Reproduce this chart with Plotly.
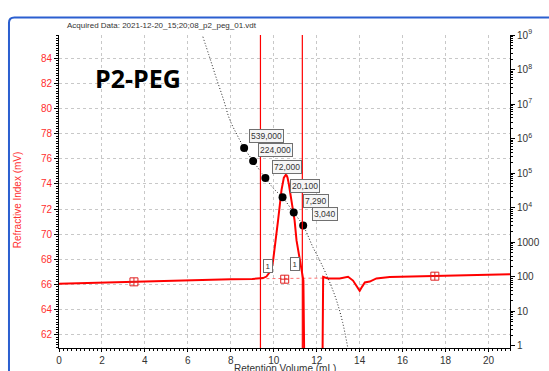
import math
import plotly.graph_objects as go

# Refractive index detector trace (retention volume in mL, signal in mV)
ri_volume = [0, 1, 2, 3, 4, 5, 6, 7, 8, 9, 9.35, 9.5, 9.66, 9.78, 9.89, 9.97, 10.05,
             10.13, 10.2, 10.28, 10.36, 10.47, 10.53, 10.56, 10.6, 10.64, 10.7, 10.79,
             10.9, 10.97, 11.06, 11.18, 11.29, 11.38, 11.45, 12.24, 12.27, 12.3, 12.38,
             12.53, 13.07, 13.3, 13.46, 13.69, 13.88, 14.0, 14.11, 14.24, 14.47, 14.78,
             15.4, 16.5, 17.6, 19, 21]
ri_mv = [66.05, 66.1, 66.15, 66.2, 66.25, 66.28, 66.32, 66.36, 66.4, 66.43, 66.45, 66.5,
         66.62, 66.85, 67.15, 67.9, 68.9, 69.8, 71.1, 72.3, 73.5, 74.5, 74.7, 74.72, 74.68,
         74.5, 74.0, 73.0, 71.9, 71.1, 69.5, 68.2, 66.9, 66.3, 55, 55, 60, 66.6, 66.55,
         66.47, 66.47, 66.55, 66.6, 66.3, 65.8, 65.48, 65.8, 66.15, 66.22, 66.47, 66.58,
         66.62, 66.65, 66.72, 66.8]

# Peak integration baseline and baseline markers
base_volume = [9.38, 12.38]
base_mv = [66.45, 66.5]
marker_volume = [3.49, 10.51, 17.5]
marker_mv = [66.2, 66.41, 66.65]

# Calibration curve (log10 molecular weight vs retention volume)
cal_volume = [6.7, 7.0, 7.3, 7.65, 7.95, 8.3, 8.62, 9.04, 9.61, 10.0, 10.41, 10.93,
              11.37, 11.83, 12.2, 12.6, 12.92, 13.2, 13.45]
cal_logm = [8.95, 8.38, 7.8, 7.15, 6.55, 6.1, 5.73, 5.35, 4.86, 4.55, 4.3, 3.86, 3.48,
            2.85, 2.4, 1.85, 1.32, 0.7, -0.06]

# Calibration standards
std_volume = [8.62, 9.04, 9.61, 10.41, 10.93, 11.37]
std_mw = [539000, 224000, 72000, 20100, 7290, 3040]

# Integration limits and peak markers
limit_volume = [9.38, 11.33]
peak_box_volume = [9.73, 10.98]
peak_box_mv = [67.45, 67.6]

x_ticks = list(range(0, 21, 2))
y_ticks = list(range(62, 85, 2))
mw_tickvals = [10 ** k for k in range(0, 10)]
mw_ticktext = ["1", "10", "100", "1000"] + [f"10<sup>{k}</sup>" for k in range(4, 10)]

FONT = "Liberation Sans, Arial, sans-serif"
RED = "#ff0000"

fig = go.Figure()

fig.add_trace(go.Scatter(
    x=cal_volume, y=[10 ** v for v in cal_logm], yaxis="y2", mode="lines",
    line=dict(color="#222222", width=1, dash="1px,2px", shape="spline"),
    hoverinfo="skip", showlegend=False))

fig.add_trace(go.Scatter(
    x=base_volume, y=base_mv, mode="lines",
    line=dict(color="#ff7070", width=1, dash="dot"), showlegend=False))

fig.add_trace(go.Scatter(
    x=ri_volume, y=ri_mv, mode="lines",
    line=dict(color=RED, width=2), showlegend=False))

fig.add_trace(go.Scatter(
    x=marker_volume, y=marker_mv, mode="markers",
    marker=dict(symbol="square-cross-open", size=8, color="#e02020", line=dict(width=1)),
    showlegend=False))

fig.add_trace(go.Scatter(
    x=std_volume, y=std_mw, yaxis="y2", mode="markers",
    marker=dict(color="black", size=8), showlegend=False))

for xv in limit_volume:
    fig.add_shape(type="line", xref="x", yref="paper", x0=xv, x1=xv, y0=0, y1=1,
                  line=dict(color=RED, width=1.2))

annotations = []
for xv, mw in zip(std_volume, std_mw):
    annotations.append(dict(
        x=xv, y=math.log10(mw), xref="x", yref="y2", text=f"{mw:,}", showarrow=False,
        xshift=22, yshift=11.5, font=dict(family=FONT, size=8.5, color="#333333"),
        bgcolor="#f6f6f6", bordercolor="#707070", borderwidth=1, borderpad=1))

for xv, yv in zip(peak_box_volume, peak_box_mv):
    annotations.append(dict(
        x=xv, y=yv, xref="x", yref="y", text="1", showarrow=False,
        font=dict(family=FONT, size=8, color="#333333"),
        bgcolor="white", bordercolor="#707070", borderwidth=1, borderpad=1.5))

annotations += [
    dict(x=0.0133, y=1.029, xref="paper", yref="paper", xanchor="left", yanchor="middle",
         text="Acquired Data: 2021-12-20_15;20;08_p2_peg_01.vdt", showarrow=False,
         font=dict(family=FONT, size=8, color="#333333")),
    dict(x=0.175, y=0.864, xref="paper", yref="paper", xanchor="center", yanchor="middle",
         text="<b>P2-PEG</b>", showarrow=False,
         font=dict(family="Open Sans, sans-serif", size=25, color="black")),
    dict(x=0.5, y=-0.066, xref="paper", yref="paper", xanchor="center", yanchor="middle",
         text="Retention Volume (mL)", showarrow=False,
         font=dict(family=FONT, size=10, color="#333333")),
    dict(x=-0.093, y=0.472, xref="paper", yref="paper", xanchor="center", yanchor="middle",
         text="Refractive Index (mV)", textangle=-90, showarrow=False,
         font=dict(family=FONT, size=10, color="#ff3030")),
]

# Blue window frame along the left and top edges
x0, yt, yb, xr = -0.1109, 1.056, -0.09, 1.09
rx, ry = 0.012, 0.017
fig.add_shape(type="path", xref="paper", yref="paper",
              path=f"M {x0},{yb} L {x0},{yt - ry} Q {x0},{yt} {x0 + rx},{yt} L {xr},{yt}",
              line=dict(color="#2b5fd0", width=2))

minor_mw = [m * 10 ** k for k in range(0, 9) for m in range(2, 10)]

fig.update_layout(
    width=549, height=371,
    margin=dict(l=59, r=39, t=35, b=23, autoexpand=False),
    paper_bgcolor="white", plot_bgcolor="white",
    font=dict(family=FONT, size=10, color="#333333"),
    annotations=annotations,
    xaxis=dict(
        range=[0, 21], tickvals=x_ticks, showline=True, linecolor="black", linewidth=1,
        ticks="outside", ticklen=3, tickcolor="black",
        showgrid=True, gridcolor="#c8c8c8", griddash="dot", gridwidth=1, zeroline=False,
        tickfont=dict(family=FONT, size=10, color="#333333"),
        minor=dict(dtick=0.2, ticks="outside", ticklen=2, tickcolor="black", showgrid=False)),
    yaxis=dict(
        range=[60.93, 85.86], tickvals=y_ticks, showline=True, linecolor="black",
        linewidth=1, ticks="outside", ticklen=4, tickcolor="black",
        showgrid=True, gridcolor="#c8c8c8", griddash="dot", gridwidth=1, zeroline=False,
        tickfont=dict(family=FONT, size=10, color="#ff3030"),
        minor=dict(dtick=0.2, ticks="outside", ticklen=2, tickcolor="black", showgrid=False)),
    yaxis2=dict(
        type="log", range=[-0.06, 9.0], overlaying="y", side="right",
        tickvals=mw_tickvals, ticktext=mw_ticktext, showline=True, linecolor="black",
        linewidth=1, ticks="outside", ticklen=4, tickcolor="black", showgrid=False,
        zeroline=False, tickfont=dict(family=FONT, size=10, color="#333333"),
        minor=dict(tickmode="array", tickvals=minor_mw, ticks="outside", ticklen=2,
                   tickcolor="black", showgrid=False)),
)

fig.write_html("out.html")
